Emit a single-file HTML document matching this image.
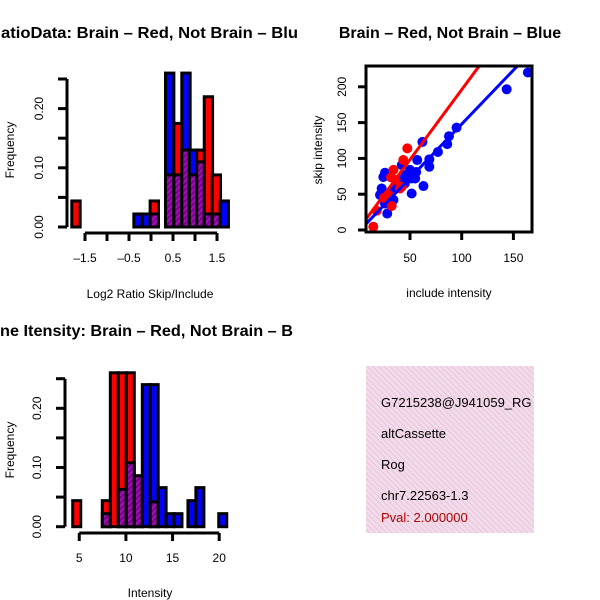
<!DOCTYPE html>
<html><head><meta charset="utf-8"><style>
html,body{margin:0;padding:0;background:#fff}
svg{display:block;font-family:"Liberation Sans",sans-serif}
</style></head><body>
<svg id="s" width="600" height="600" viewBox="0 0 600 600">
<defs>
<pattern id="hatch" patternUnits="userSpaceOnUse" width="4" height="4" patternTransform="rotate(45)">
<rect width="4" height="4" fill="#a010b8"/><rect width="2" height="4" fill="#7a0088"/>
</pattern>
<pattern id="pink" patternUnits="userSpaceOnUse" width="4" height="4" patternTransform="rotate(-45)">
<rect width="4" height="4" fill="#f8d8f0"/><rect width="1" height="4" fill="#d8d0c8"/>
</pattern>
<clipPath id="leftclip"><rect x="0" y="0" width="300" height="600"/></clipPath>
<clipPath id="boxclip"><rect x="366" y="66" width="166" height="166"/></clipPath>
<clipPath id="infoclip"><rect x="366" y="366" width="168" height="167"/></clipPath>
</defs>
<g clip-path="url(#leftclip)">
<text x="1" y="38" font-size="16" font-weight="bold" textLength="297" lengthAdjust="spacingAndGlyphs">atioData: Brain – Red, Not Brain – Blu</text>
<text x="0" y="336" font-size="16" font-weight="bold" textLength="293" lengthAdjust="spacingAndGlyphs">ne Itensity: Brain – Red, Not Brain – B</text>
</g>
<text x="450" y="38" text-anchor="middle" font-size="16" font-weight="bold">Brain – Red, Not Brain – Blue</text>
<g id="p1"></g><g id="p2"></g><g id="p3"></g>
<g>
<rect x="366" y="366" width="168" height="167" fill="url(#pink)"/>
<g clip-path="url(#infoclip)" font-size="13">
<text x="381" y="407">G7215238@J941059_RG</text>
<text x="381" y="438">altCassette</text>
<text x="381" y="469">Rog</text>
<text x="381" y="500">chr7.22563-1.3</text>
<text x="381" y="522" fill="#b00000">Pval: 2.000000</text>
</g></g>
</svg>
<script>
// Histogram 1: log2 ratio
const ratioBinStart=[-1.80,-0.39,-0.20,-0.02,0.33,0.52,0.70,0.87,1.04,1.21,1.39,1.57];
const ratioBinWidth=0.19;
const ratioRed=[0.044,0,0,0.044,0.088,0.175,0.13,0.088,0.13,0.22,0.088,0];
const ratioBlue=[0,0.022,0.022,0.022,0.26,0.088,0.26,0.13,0.11,0.022,0.022,0.044];
const ratioXTicks=[-1.5,-1,-0.5,0,0.5,1,1.5];
const ratioXLabels=["–1.5","","–0.5","","0.5","","1.5"];
const freqTicks=[0,0.05,0.1,0.15,0.2,0.25];
const freqLabels=["0.00","","0.10","","0.20",""];
// Histogram 2: intensity
const intBinStart=[4.30,7.47,8.33,9.18,10.04,10.90,11.76,12.60,13.45,14.30,15.15,16.65,17.50,19.95];
const intBinWidth=0.86;
const intRed=[0.044,0.044,0.26,0.26,0.26,0.086,0,0.042,0,0,0,0,0,0];
const intBlue=[0,0.022,0,0.063,0.108,0.086,0.24,0.24,0.066,0.022,0.022,0.044,0.066,0.022];
const intXTicks=[5,10,15,20];
// Scatter
const blueInclude=[164,143.5,95,87.7,86,77,68.7,68.7,62,63,57,51.6,55,48.4,42,25.8,24.2,22.6,21,28,34,35.5,40,46,51.6,50,56,45,30.6,25.8];
const blueSkip=[220,196.5,143,131,120,109,98.7,88.4,123,61.4,97.7,51,72,79,90.8,80,74,58,49,23,42,58,70,77,72,84,81,65,51,37];
const redInclude=[14.5,47.4,43.5,34,31.6,32.3,40.3,17.8,42,29,36,25];
const redSkip=[4.6,114,97.7,84,73.6,33.5,58,27,60.5,49,70,45];
const redFit=[0.5,1.955];
const blueFit=[-2.8,1.507];
const scatterXTicks=[50,100,150];
const scatterYTicks=[0,50,100,150,200];

const NS="http://www.w3.org/2000/svg";
function mk(parent,tag,attrs,text){const e=document.createElementNS(NS,tag);for(const k in attrs)e.setAttribute(k,attrs[k]);if(text!==undefined)e.textContent=text;parent.appendChild(e);return e;}

function hist(g,starts,w,red,blue,xs,ys,name){
  starts.forEach((s,i)=>{
    const r=red[i],b=blue[i],mx=Math.max(r,b),mn=Math.min(r,b);
    if(mx<=0)return;
    const x0=xs(s),x1=xs(s+w);
    const o=mk(g,'rect',{x:x0,y:ys(mx),width:x1-x0,height:ys(0)-ys(mx),fill:r>=b?'#ff0000':'#0000ff',stroke:'#000','stroke-width':3});
    
    
    if(mn>0){
      const p=mk(g,'rect',{x:x0,y:ys(mn),width:x1-x0,height:ys(0)-ys(mn),fill:'url(#hatch)',stroke:'#000','stroke-width':3});
      
      
    }
  });
}
function yaxis(g,x,ys,ticks,labels,lx,name){
  const a=mk(g,'line',{x1:x,x2:x,y1:ys(ticks[0]),y2:ys(ticks[ticks.length-1]),stroke:'#000','stroke-width':3});
  
  
  ticks.forEach((t,i)=>{
    mk(g,'line',{x1:x-9,x2:x,y1:ys(t),y2:ys(t),stroke:'#000','stroke-width':3});
    if(labels[i]){const l=mk(g,'text',{x:lx,y:ys(t),'font-size':12,'text-anchor':'middle',transform:`rotate(-90 ${lx} ${ys(t)})`},labels[i]);
      
      }
  });
}
function xaxis(g,y,xs,ticks,labels,name){
  const a=mk(g,'line',{x1:xs(ticks[0]),x2:xs(ticks[ticks.length-1]),y1:y,y2:y,stroke:'#000','stroke-width':3});
  
  
  ticks.forEach((t,i)=>{
    mk(g,'line',{x1:xs(t),x2:xs(t),y1:y,y2:y+8,stroke:'#000','stroke-width':3});
    if(labels[i]){const l=mk(g,'text',{x:xs(t),y:y+29,'font-size':12,'text-anchor':'middle'},labels[i]);
      
      }
  });
}
function label(g,x,y,t,rot,name){
  const l=mk(g,'text',{x:x,y:y,'font-size':12,'text-anchor':'middle',transform:rot?`rotate(-90 ${x} ${y})`:''},t);
  
  
}

// Panel 1
{const g=document.getElementById('p1');
 const xs=v=>85+(v+1.5)*44, ys=f=>227-f*592;
 hist(g,ratioBinStart,ratioBinWidth,ratioRed,ratioBlue,xs,ys,'ratio');
 yaxis(g,67,ys,freqTicks,freqLabels,43,'ratio');
 xaxis(g,233,xs,ratioXTicks,ratioXLabels,'ratio');
 label(g,150,298,'Log2 Ratio Skip/Include',false,'ratio-x-axis-title');
 label(g,14,150,'Frequency',true,'ratio-y-axis-title');}
// Panel 3
{const g=document.getElementById('p3');
 const xs=v=>32.6+v*9.33, ys=f=>526.7-f*592;
 hist(g,intBinStart,intBinWidth,intRed,intBlue,xs,ys,'intensity');
 yaxis(g,65,ys,freqTicks,freqLabels,41,'intensity');
 xaxis(g,533,xs,intXTicks,intXTicks.map(String),'intensity');
 label(g,150,597,'Intensity',false,'intensity-x-axis-title');
 label(g,14,450,'Frequency',true,'intensity-y-axis-title');}
// Panel 2 scatter
{const g=document.getElementById('p2');
 const xs=v=>358.3+v*1.034, ys=v=>230-v*0.716;
 const c=mk(g,'g',{'clip-path':'url(#boxclip)'});
 blueInclude.forEach((v,i)=>{const p=mk(c,'circle',{cx:xs(v),cy:ys(blueSkip[i]),r:5,fill:'#0000ff'});
   
   });
 redInclude.forEach((v,i)=>{const p=mk(c,'circle',{cx:xs(v),cy:ys(redSkip[i]),r:5,fill:'#ff0000'});
   
   });
 const bl=mk(c,'line',{x1:xs(0),y1:ys(blueFit[0]),x2:xs(200),y2:ys(blueFit[0]+blueFit[1]*200),stroke:'#0000ff','stroke-width':3});
 
 
 const rl=mk(c,'line',{x1:xs(0),y1:ys(redFit[0]),x2:xs(200),y2:ys(redFit[0]+redFit[1]*200),stroke:'#ff0000','stroke-width':3});
 
 
 const b=mk(g,'rect',{x:366,y:66,width:166,height:166,fill:'none',stroke:'#000','stroke-width':3});
 
 
 scatterYTicks.forEach(t=>{mk(g,'line',{x1:358,x2:366,y1:ys(t),y2:ys(t),stroke:'#000','stroke-width':3});
   const l=mk(g,'text',{x:346,y:ys(t),'font-size':12,'text-anchor':'middle',transform:`rotate(-90 346 ${ys(t)})`},String(t));
   
   });
 scatterXTicks.forEach(t=>{mk(g,'line',{x1:xs(t),x2:xs(t),y1:232,y2:240,stroke:'#000','stroke-width':3});
   const l=mk(g,'text',{x:xs(t),y:262,'font-size':12,'text-anchor':'middle'},String(t));
   
   });
 label(g,449,297,'include intensity',false,'scatter-x-axis-title');
 label(g,322,150,'skip intensity',true,'scatter-y-axis-title');}
</script>
</body></html>
